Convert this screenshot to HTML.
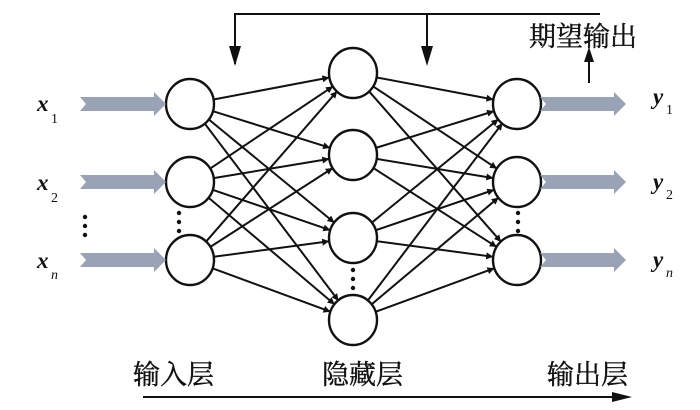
<!DOCTYPE html>
<html><head><meta charset="utf-8"><style>
body{margin:0;background:#fff;}
svg{display:block;}
text{font-family:"Liberation Serif","Noto Serif CJK SC",serif;fill:#111;}
</style></head><body>
<svg id="s" width="700" height="410" viewBox="0 0 700 410" xmlns="http://www.w3.org/2000/svg">
<defs>
<marker id="a" viewBox="0 0 10 10" refX="10" refY="5" markerWidth="12" markerHeight="7" orient="auto" markerUnits="userSpaceOnUse"><path d="M0,0 L10,5 L0,10 z" fill="#111"/></marker>
</defs>
<g id="g" stroke="#111" stroke-width="2" fill="none"></g>
<polyline points="235,64 235,14 600,14" stroke="#111" stroke-width="2" fill="none"/>
<path d="M229,46 L235,66 L241,46 z" fill="#111"/>
<line x1="427" y1="14" x2="427" y2="50" stroke="#111" stroke-width="2"/>
<path d="M421,46 L427,66 L433,46 z" fill="#111"/>
<line x1="589" y1="83" x2="589" y2="60" stroke="#111" stroke-width="2"/>
<path d="M584,62 L589,47 L594,62 z" fill="#111"/>
<text x="529" y="46" font-size="27" stroke="#111" stroke-width="0.4">期望输出</text>
<line x1="143" y1="397" x2="620" y2="397" stroke="#111" stroke-width="2"/>
<path d="M612,392 L632,397 L612,402 z" fill="#111"/>
<g font-size="27" stroke="#111" stroke-width="0.4">
<text x="133" y="384">输入层</text>
<text x="322" y="384">隐藏层</text>
<text x="547" y="384">输出层</text>
</g>
<g font-style="italic" font-weight="bold" font-size="23">
<text x="37" y="111">x</text><text x="37" y="190">x</text><text x="37" y="268">x</text>
<text x="653" y="104">y</text><text x="653" y="189">y</text><text x="653" y="267">y</text>
</g>
<g font-size="14">
<text x="51" y="123">1</text><text x="51" y="202">2</text><text x="51" y="279" font-style="italic">n</text>
<text x="666" y="114">1</text><text x="666" y="199">2</text><text x="666" y="277" font-style="italic">n</text>
</g>
<g fill="#111">
<circle cx="85" cy="217" r="2.2"/><circle cx="85" cy="226" r="2.2"/><circle cx="85" cy="235" r="2.2"/>
<circle cx="179" cy="213" r="2.2"/><circle cx="179" cy="222" r="2.2"/><circle cx="179" cy="231" r="2.2"/>
<circle cx="353" cy="270" r="2.2"/><circle cx="353" cy="279" r="2.2"/><circle cx="353" cy="288" r="2.2"/>
<circle cx="518" cy="213" r="2.2"/><circle cx="518" cy="222" r="2.2"/><circle cx="518" cy="231" r="2.2"/>
</g>
</svg>
<script>
var NS="http://www.w3.org/2000/svg",s=document.getElementById('s'),g=document.getElementById('g');
var I=[[190,104],[190,182],[190,260]],H=[[353,73],[353,155],[353,238],[353,320]],O=[[517,104],[517,182],[517,260]];
var R=24;
function ln(a,b){var dx=b[0]-a[0],dy=b[1]-a[1],d=Math.hypot(dx,dy),ux=dx/d,uy=dy/d;
var l=document.createElementNS(NS,'line');l.setAttribute('x1',a[0]+ux*R);l.setAttribute('y1',a[1]+uy*R);
l.setAttribute('x2',b[0]-ux*R);l.setAttribute('y2',b[1]-uy*R);l.setAttribute('marker-end','url(#a)');g.appendChild(l);}
I.forEach(a=>H.forEach(b=>ln(a,b)));H.forEach(a=>O.forEach(b=>ln(a,b)));
function circ(c){var e=document.createElementNS(NS,'ellipse');e.setAttribute('cx',c[0]);e.setAttribute('cy',c[1]);e.setAttribute('rx',R);e.setAttribute('ry',R+1);
e.setAttribute('fill','#fff');e.setAttribute('stroke','#111');e.setAttribute('stroke-width','2.4');s.appendChild(e);}
I.concat(H,O).forEach(circ);
function fat(x1,x2,y){var p=document.createElementNS(NS,'path');
p.setAttribute('d','M'+x1+','+(y-7)+' L'+(x2-12)+','+(y-7)+' L'+(x2-12)+','+(y-12)+' L'+x2+','+y+' L'+(x2-12)+','+(y+12)+' L'+(x2-12)+','+(y+7)+' L'+x1+','+(y+7)+' L'+(x1+6)+','+y+' z');
p.setAttribute('fill','#9aa2b6');s.appendChild(p);}
[104,182,260].forEach(y=>{fat(80,166,y);fat(540,626,y);});
</script>
</body></html>
